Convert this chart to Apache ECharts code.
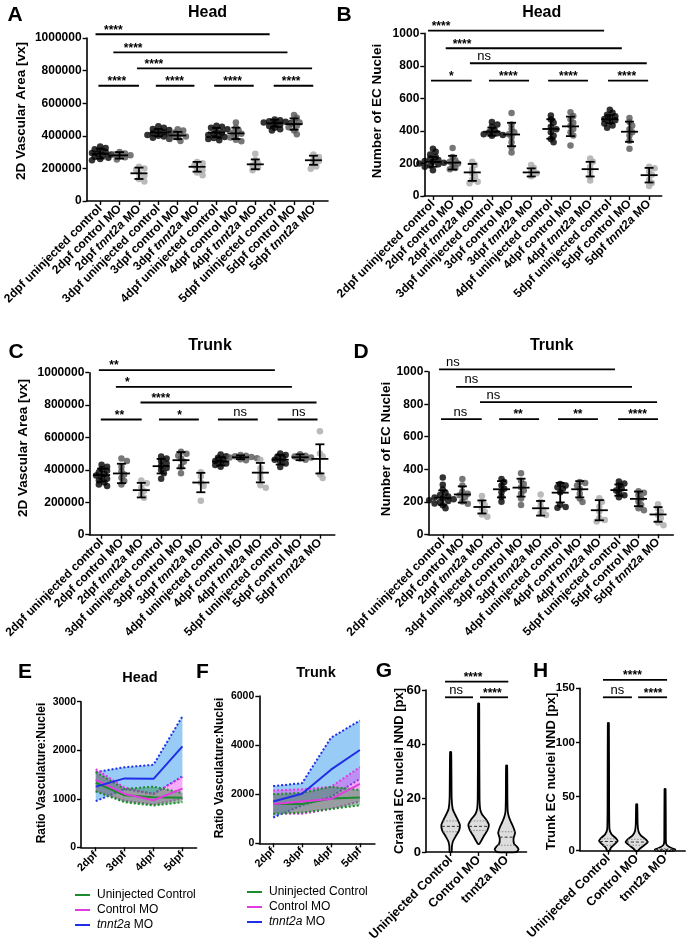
<!DOCTYPE html>
<html><head><meta charset="utf-8">
<script src="https://cdn.jsdelivr.net/npm/echarts@6/dist/echarts.min.js"></script>
<style>html,body{margin:0;padding:0;background:#fff}#c{width:690px;height:945px}</style>
</head><body><div id="c"></div>
<script>
const FONT = '"Liberation Sans", Arial, Helvetica, sans-serif';

// ---------- categories ----------
const catsAD = ['2dpf uninjected control','2dpf control MO','2dpf tnnt2a MO','3dpf uninjected control','3dpf control MO','3dpf tnnt2a MO','4dpf uninjected control','4dpf control MO','4dpf tnnt2a MO','5dpf uninjected control','5dpf control MO','5dpf tnnt2a MO'];
const daysEF = ['2dpf','3dpf','4dpf','5dpf'];
const catsGH = ['Uninjected Control','Control MO','tnnt2a MO'];
const groupNames = ['Uninjected Control','Control MO','tnnt2a MO'];

// ---------- A: Head 2D vascular area ----------
const aDots = [
 [335e3,325e3,318e3,310e3,300e3,295e3,290e3,285e3,280e3,272e3,265e3,258e3,250e3],
 [300e3,292e3,285e3,280e3,275e3,268e3,255e3],
 [210e3,200e3,190e3,172e3,155e3,135e3,120e3],
 [458e3,450e3,442e3,435e3,428e3,422e3,416e3,410e3,405e3,400e3,395e3,388e3,382e3],
 [440e3,432e3,420e3,410e3,402e3,396e3,390e3,380e3,368e3],
 [240e3,232e3,218e3,200e3,190e3,175e3,158e3],
 [462e3,455e3,450e3,440e3,430e3,420e3,412e3,405e3,398e3,392e3,386e3,380e3,372e3],
 [482e3,450e3,432e3,420e3,412e3,402e3,390e3,376e3,366e3],
 [290e3,252e3,232e3,220e3,205e3,188e3],
 [500e3,495e3,490e3,486e3,482e3,478e3,474e3,468e3,460e3,450e3,440e3,432e3],
 [528e3,510e3,492e3,482e3,472e3,462e3,452e3,432e3,410e3],
 [285e3,270e3,256e3,245e3,232e3,212e3,198e3]
];
const aMean = [290e3,280e3,170e3,420e3,402e3,210e3,420e3,415e3,225e3,477e3,472e3,250e3];
const aSD   = [30e3,20e3,35e3,22e3,22e3,30e3,28e3,35e3,30e3,22e3,35e3,28e3];
const aSigFrom = [-0.24,0.68,1.9,-0.09,2.87,5.88,8.95];
const aSigTo   = [8.74,9.66,10.93,2.0,4.86,7.92,10.99];
const aSigY    = [1023e3,912e3,814e3,707e3,707e3,707e3,707e3];
const aSigAt   = [0.68,1.7,2.77,0.86,3.84,6.83,9.85];
const aSigText = ['****','****','****','****','****','****','****'];

// ---------- B: Head EC nuclei ----------
const bDots = [
 [290,272,255,240,230,222,215,210,205,200,195,188,180,158],
 [295,240,220,210,200,190,172,165],
 [210,190,165,140,120,100,88,78],
 [455,440,425,405,392,386,380,375,370],
 [510,440,412,392,380,362,330,300,268],
 [190,172,152,140,122],
 [495,470,450,425,410,392,370,350,330],
 [515,492,470,450,432,412,392,372,310],
 [230,210,180,150,120,95],
 [530,512,500,490,482,474,466,456,446,434,420],
 [480,455,432,410,392,372,340,290],
 [180,170,150,130,100,80,62]
];
const bMean = [210,205,145,395,378,145,412,428,165,472,395,128];
const bSD   = [30,42,52,25,72,25,60,60,45,25,62,45];
const bSigFrom = [-0.25,0.65,1.88,-0.1,2.85,5.86,8.91];
const bSigTo   = [8.71,9.61,10.88,1.97,4.89,7.89,10.95];
const bSigY    = [1016,908,816,709,709,709,709];
const bSigAt   = [0.41,1.48,2.6,0.93,3.83,6.89,9.86];
const bSigText = ['****','****','ns','*','****','****','****'];

// ---------- C: Trunk 2D vascular area ----------
const cDots = [
 [432e3,420e3,405e3,395e3,385e3,375e3,365e3,355e3,345e3,335e3,322e3,310e3,300e3],
 [470e3,455e3,420e3,392e3,372e3,352e3,332e3,310e3],
 [335e3,318e3,292e3,270e3,250e3,228e3],
 [482e3,470e3,455e3,440e3,425e3,412e3,400e3,380e3,345e3],
 [512e3,500e3,488e3,470e3,450e3,420e3,380e3],
 [385e3,360e3,322e3,300e3,210e3],
 [495e3,485e3,475e3,465e3,455e3,447e3,440e3,430e3,420e3],
 [492e3,488e3,484e3,480e3,476e3,472e3,466e3,460e3],
 [462e3,410e3,380e3,350e3,305e3,290e3],
 [502e3,492e3,482e3,472e3,462e3,452e3,440e3,418e3],
 [496e3,488e3,482e3,476e3,470e3,462e3],
 [638e3,502e3,482e3,372e3,350e3]
];
const cMean = [368e3,378e3,275e3,423e3,460e3,322e3,452e3,478e3,383e3,463e3,478e3,468e3];
const cSD   = [40e3,60e3,45e3,45e3,50e3,60e3,25e3,12e3,60e3,30e3,18e3,90e3];
const cSigFrom = [-0.14,0.72,1.96,-0.04,2.89,5.86,8.87];
const cSigTo   = [8.73,9.59,10.83,2.02,4.9,7.87,10.88];
const cSigY    = [1016e3,913e3,816e3,711e3,711e3,711e3,711e3];
const cSigAt   = [0.62,1.3,2.98,0.9,3.93,6.98,9.93];
const cSigText = ['**','*','****','**','*','ns','ns'];

// ---------- D: Trunk EC nuclei ----------
const dDots = [
 [350,305,275,255,242,232,226,220,215,210,205,198,190,178,160],
 [340,300,262,250,240,228,202,188],
 [235,200,180,160,140,122,108],
 [340,322,300,280,258,230,200],
 [375,330,310,290,270,250,220,180],
 [245,200,172,150,130,118],
 [310,300,290,280,258,182,168,164],
 [322,316,300,280,250,220,198],
 [222,200,170,140,100,88,78],
 [325,312,300,282,270,252,240,228],
 [265,255,240,220,200,180,160,148],
 [185,160,140,120,100,72,55]
];
const dMean = [225,245,168,277,287,160,256,277,148,272,218,122];
const dSD   = [45,50,40,50,55,45,60,50,62,35,45,45];
const dSigFrom = [-0.19,0.68,1.9,-0.09,2.88,5.89,8.96];
const dSigTo   = [8.8,9.67,10.95,1.99,4.92,7.93,11.0];
const dSigY    = [1014,907,813,708,708,708,708];
const dSigAt   = [0.51,1.46,2.59,0.9,3.85,6.9,9.95];
const dSigText = ['ns','ns','ns','ns','**','**','****'];

// ---------- E: Head ratio ----------
const eUninj = [1330,1070,1030,1020], eUninjLo = [1150,930,860,930], eUninjHi = [1550,1200,1250,1120];
const eCtrl  = [1390,1100,970,1210],  eCtrlLo  = [1160,960,880,1000], eCtrlHi  = [1610,1230,1100,1450];
const eTnnt  = [1250,1420,1410,2080], eTnntLo  = [950,1200,1100,1460], eTnntHi  = [1550,1650,1700,2700];

// ---------- F: Trunk ratio ----------
const fUninj = [1600,1600,1820,1870], fUninjLo = [1200,1250,1400,1550], fUninjHi = [2000,2050,2300,2170];
const fCtrl  = [1600,1700,1800,2420], fCtrlLo  = [1200,1200,1400,1700], fCtrlHi  = [2150,2200,2300,3100];
const fTnnt  = [1700,2020,3000,3800], fTnntLo  = [1050,1550,1900,2620], fTnntHi  = [2330,2450,4300,5000];

// ---------- G / H: violin densities [value, relative density] and quartiles ----------
const gDensity = [
 [[0,0.06],[2,0.08],[4,0.17],[6,0.42],[8,0.68],[10,0.75],[12,0.56],[14,0.33],[16,0.14],[20,0.06],[30,0.04],[37,0.02]],
 [[3,0.04],[4,0.17],[6,0.42],[8,0.7],[10,0.83],[12,0.6],[14,0.25],[16,0.1],[20,0.05],[40,0.03],[55,0.02]],
 [[0,0.8],[1,0.97],[2,0.83],[3,0.6],[5,0.55],[7,0.68],[9,0.55],[11,0.35],[13,0.17],[15,0.07],[20,0.04],[32,0.02]]
];
const gQuart = [[7.5,9.5,11.5],[8,9.5,11.5],[2.5,5.5,7.5]];
const hDensity = [
 [[0,0.08],[3,0.2],[6,0.5],[9,0.75],[12,0.55],[15,0.25],[20,0.07],[40,0.04],[118,0.02]],
 [[0,0.08],[2,0.25],[5,0.6],[8,0.9],[11,0.68],[14,0.33],[18,0.12],[25,0.05],[43,0.02]],
 [[0,0.75],[1,0.83],[2,0.6],[4,0.25],[6,0.08],[10,0.04],[57,0.02]]
];
const hQuart = [[5,8.5,11],[5,8,10.5],[0.5,1,2]];

const gSigFrom = [-0.2,-0.2,1.05], gSigTo = [2.06,0.8,2.05], gSigY = [63.1,57.3,57.3], gSigAt = [0.8,0.2,1.49], gSigText = ['****','ns','****'];
const hSigFrom = [-0.19,-0.19,1.05], hSigTo = [2.07,0.83,2.07], hSigY = [157.7,141.7,141.7], hSigAt = [0.85,0.32,1.58], hSigText = ['****','ns','****'];

// ---------- layout ----------
const P = {
  A:{left:84,top:38,width:244,height:163,xmin:-0.70,xmax:11.75,ymax:1e6,yint:2e5},
  B:{left:424.3,top:33.3,width:237.4,height:162.7,xmin:-0.44,xmax:11.64,ymax:1000,yint:200},
  C:{left:89.3,top:372.7,width:245.5,height:162,xmin:-0.62,xmax:11.75,ymax:1e6,yint:2e5},
  D:{left:428.3,top:371.7,width:245,height:162.6,xmin:-0.74,xmax:11.78,ymax:1000,yint:200},
  E:{left:81,top:701.7,width:115.6,height:145.6,xmin:-0.51,xmax:3.49,ymax:3000,yint:1000},
  F:{left:259.3,top:696,width:115.6,height:147.3,xmin:-0.48,xmax:3.52,ymax:6000,yint:2000},
  G:{left:426,top:690,width:100.5,height:162,xmin:-0.88,xmax:2.71,ymax:60,yint:20},
  H:{left:580,top:688.3,width:105.2,height:162.4,xmin:-1.0,xmax:2.71,ymax:150,yint:50}
};

const grids = [], xAxes = [], yAxes = [], series = [];
const axisLineStyle = {color:'#000', width:1.6};

function addPanel(p, cats, xFont, yFont, italic) {
  const gi = grids.length;
  grids.push({left:p.left, top:p.top, width:p.width, height:p.height});
  const ticks = cats.map((_, i) => i);
  xAxes.push({
    type:'value', gridIndex:gi, min:p.xmin, max:p.xmax, splitLine:{show:false},
    axisLine:{onZero:false, lineStyle:axisLineStyle},
    axisTick:{customValues:ticks, length:4, lineStyle:{color:'#000', width:1.4}},
    axisLabel:{customValues:ticks, rotate:45, margin:6, color:'#000', fontWeight:'bold', fontSize:xFont, fontFamily:FONT,
      formatter: v => { const n = cats[Math.round(v)] || ''; return italic ? n.replace('tnnt2a', '{i|tnnt2a}') : n; },
      rich:{i:{fontStyle:'italic', fontWeight:'bold', fontSize:xFont, fontFamily:FONT, color:'#000'}}}
  });
  yAxes.push({
    type:'value', gridIndex:gi, min:0, max:p.ymax, interval:p.yint, splitLine:{show:false},
    axisLine:{show:true, onZero:false, lineStyle:axisLineStyle},
    axisTick:{show:true, length:4, lineStyle:{color:'#000', width:1.4}},
    axisLabel:{color:'#000', fontWeight:'bold', fontSize:yFont, fontFamily:FONT, margin:5, formatter: v => String(v)}
  });
  return gi;
}

function swarm(values, ppu, d) {
  const order = values.map((v, k) => k).sort((a, b) => values[b] - values[a]);
  const placed = [], off = values.map(() => 0);
  for (const k of order) {
    const y = values[k] * ppu;
    for (let s = 0; s < 30; s++) {
      const cand = s === 0 ? 0 : (s % 2 ? 1 : -1) * Math.ceil(s / 2) * d * 0.42;
      if (placed.every(pp => Math.hypot(pp.x - cand, pp.y - y) >= d * 0.6)) { off[k] = cand; placed.push({x:cand, y}); break; }
    }
  }
  return off;
}

const dotColors = ['#000000', '#555555', '#a9a9a9'];
function dotSeries(gi, p, groups) {
  const ppu = p.height / p.ymax, data = [];
  groups.forEach((vals, i) => {
    const off = swarm(vals, ppu, 6.5);
    vals.forEach((v, k) => data.push({value:[i, v], symbolOffset:[off[k], 0], itemStyle:{color:dotColors[i % 3]}}));
  });
  return {type:'scatter', xAxisIndex:gi, yAxisIndex:gi, symbolSize:6.5, silent:true, z:3, data};
}

function errSeries(gi, means, sds) {
  return {type:'custom', xAxisIndex:gi, yAxisIndex:gi, silent:true, z:4, clip:false,
    data: means.map((m, i) => [i, m, sds[i]]), encode:{x:0, y:1},
    renderItem:(params, api) => {
      const i = api.value(0), m = api.value(1), s = api.value(2);
      const c = api.coord([i, m]), hi = api.coord([i, m + s]), lo = api.coord([i, m - s]);
      const st = {stroke:'#000', lineWidth:1.8};
      return {type:'group', children:[
        {type:'line', shape:{x1:c[0]-8.5, y1:c[1], x2:c[0]+8.5, y2:c[1]}, style:st},
        {type:'line', shape:{x1:c[0], y1:hi[1], x2:c[0], y2:lo[1]}, style:st},
        {type:'line', shape:{x1:c[0]-4.5, y1:hi[1], x2:c[0]+4.5, y2:hi[1]}, style:st},
        {type:'line', shape:{x1:c[0]-4.5, y1:lo[1], x2:c[0]+4.5, y2:lo[1]}, style:st}
      ]};
    }};
}

function sigSeries(gi, from, to, ys, at, texts) {
  return {type:'custom', xAxisIndex:gi, yAxisIndex:gi, silent:true, z:5, clip:false,
    data: from.map((f, k) => [f, to[k], ys[k], at[k]]), encode:{x:0, y:2},
    renderItem:(params, api) => {
      const y = api.value(2);
      const p1 = api.coord([api.value(0), y]), p2 = api.coord([api.value(1), y]), pl = api.coord([api.value(3), y]);
      const t = texts[params.dataIndex], stars = t.indexOf('*') >= 0;
      return {type:'group', children:[
        {type:'line', shape:{x1:p1[0], y1:p1[1], x2:p2[0], y2:p2[1]}, style:{stroke:'#000', lineWidth:1.8}},
        {type:'text', x:pl[0], y: stars ? p1[1] + 2 : p1[1] - 0.5,
          style:{text:t, fill:'#000', font: stars ? 'bold 12px ' + FONT : '13px ' + FONT, align:'center', verticalAlign:'bottom'}}
      ]};
    }};
}

function violinSeries(gi, dens, quarts) {
  const MAXW = 12;
  return {type:'custom', xAxisIndex:gi, yAxisIndex:gi, silent:true, z:3, clip:false,
    data: dens.map((_, i) => [i, 0]), encode:{x:0, y:1},
    renderItem:(params, api) => {
      const i = api.value(0), d = dens[params.dataIndex], q = quarts[params.dataIndex];
      const pt = (v, w, sgn) => { const c = api.coord([i, v]); return [c[0] + sgn * (w * MAXW + 0.3), c[1]]; };
      const pts = d.map(([v, w]) => pt(v, w, 1)).concat(d.slice().reverse().map(([v, w]) => pt(v, w, -1)));
      const widthAt = v => {
        for (let k = 0; k < d.length - 1; k++) {
          if (v >= d[k][0] && v <= d[k+1][0]) { const t = (v - d[k][0]) / (d[k+1][0] - d[k][0]); return d[k][1] + t * (d[k+1][1] - d[k][1]); }
        }
        return 0;
      };
      const qlines = q.map((v, k) => {
        const c = api.coord([i, v]), w = widthAt(v) * MAXW;
        return {type:'line', shape:{x1:c[0]-w, y1:c[1], x2:c[0]+w, y2:c[1]},
          style:{stroke: k === 1 ? '#333' : '#888', lineWidth:1, lineDash: k === 1 ? [3, 2] : [1.5, 1.5]}};
      });
      return {type:'group', children:[
        {type:'polygon', shape:{points:pts, smooth:0.15}, style:{fill:'#dedede', stroke:'#000', lineWidth:1.8}}
      ].concat(qlines)};
    }};
}

function bandSeries(gi, lower, upper, fill, stroke) {
  return {type:'custom', xAxisIndex:gi, yAxisIndex:gi, silent:true, z:2, clip:false,
    data: lower.map((l, i) => [i, l, upper[i]]), encode:{x:0, y:[1, 2]},
    renderItem:(params, api) => {
      if (params.dataIndex !== 0) return {type:'group', children:[]};
      const n = lower.length, lo = [], up = [];
      for (let j = 0; j < n; j++) {
        lo.push(api.coord([api.value(0, j), api.value(1, j)]));
        up.push(api.coord([api.value(0, j), api.value(2, j)]));
      }
      const ls = {stroke, lineWidth:2, lineDash:[2, 2], fill:null};
      return {type:'group', children:[
        {type:'polygon', shape:{points: up.concat(lo.slice().reverse())}, style:{fill}},
        {type:'polyline', shape:{points:up}, style:ls},
        {type:'polyline', shape:{points:lo}, style:ls}
      ]};
    }};
}

function lineSeries(gi, name, vals, color) {
  return {type:'line', name, xAxisIndex:gi, yAxisIndex:gi, data: vals.map((v, i) => [i, v]),
    symbol:'none', lineStyle:{color, width:2}, itemStyle:{color}, z:4, silent:true};
}

// ---------- build panels ----------
const gA = addPanel(P.A, catsAD, 12, 12, true);
series.push(dotSeries(gA, P.A, aDots), errSeries(gA, aMean, aSD), sigSeries(gA, aSigFrom, aSigTo, aSigY, aSigAt, aSigText));
const gB = addPanel(P.B, catsAD, 12, 12, true);
series.push(dotSeries(gB, P.B, bDots), errSeries(gB, bMean, bSD), sigSeries(gB, bSigFrom, bSigTo, bSigY, bSigAt, bSigText));
const gC = addPanel(P.C, catsAD, 12, 12, true);
series.push(dotSeries(gC, P.C, cDots), errSeries(gC, cMean, cSD), sigSeries(gC, cSigFrom, cSigTo, cSigY, cSigAt, cSigText));
const gD = addPanel(P.D, catsAD, 12, 12, true);
series.push(dotSeries(gD, P.D, dDots), errSeries(gD, dMean, dSD), sigSeries(gD, dSigFrom, dSigTo, dSigY, dSigAt, dSigText));

const GREEN = '#1c8c2c', MAGENTA = '#e03ce0', BLUE = '#1f2fe8';
const FILL_G = 'rgba(40,140,60,0.45)', FILL_M = 'rgba(235,70,235,0.45)', FILL_B = 'rgba(70,160,240,0.55)';
const gE = addPanel(P.E, daysEF, 11, 10.5, false);
series.push(
  bandSeries(gE, eTnntLo, eTnntHi, FILL_B, BLUE),
  bandSeries(gE, eCtrlLo, eCtrlHi, FILL_M, MAGENTA),
  bandSeries(gE, eUninjLo, eUninjHi, FILL_G, GREEN),
  lineSeries(gE, groupNames[0], eUninj, GREEN),
  lineSeries(gE, groupNames[1], eCtrl, MAGENTA),
  lineSeries(gE, groupNames[2], eTnnt, BLUE));
const gF = addPanel(P.F, daysEF, 11, 10.5, false);
series.push(
  bandSeries(gF, fTnntLo, fTnntHi, FILL_B, BLUE),
  bandSeries(gF, fCtrlLo, fCtrlHi, FILL_M, MAGENTA),
  bandSeries(gF, fUninjLo, fUninjHi, FILL_G, GREEN),
  lineSeries(gF, groupNames[0], fUninj, GREEN),
  lineSeries(gF, groupNames[1], fCtrl, MAGENTA),
  lineSeries(gF, groupNames[2], fTnnt, BLUE));
const gG = addPanel(P.G, catsGH, 12.5, 13, false);
series.push(violinSeries(gG, gDensity, gQuart), sigSeries(gG, gSigFrom, gSigTo, gSigY, gSigAt, gSigText));
const gH = addPanel(P.H, catsGH, 12.5, 11.5, false);
series.push(violinSeries(gH, hDensity, hQuart), sigSeries(gH, hSigFrom, hSigTo, hSigY, hSigAt, hSigText));

// ---------- texts ----------
function txt(text, x, y, font, rot) {
  return {type:'text', x, y, rotation: rot ? Math.PI / 2 : 0, silent:true,
    style:{text, font: font + ' ' + FONT, fill:'#000', align:'center', verticalAlign:'middle'}};
}
const texts = [
  txt('A', 15, 15, 'bold 21px'), txt('B', 344, 15, 'bold 21px'), txt('C', 16, 352.5, 'bold 21px'), txt('D', 361, 352.5, 'bold 21px'),
  txt('E', 25, 672, 'bold 21px'), txt('F', 202.5, 672, 'bold 21px'), txt('G', 384, 671.5, 'bold 21px'), txt('H', 540.5, 671.5, 'bold 21px'),
  txt('Head', 207.5, 12.5, 'bold 16px'), txt('Head', 541.7, 12.5, 'bold 16px'),
  txt('Trunk', 210, 346, 'bold 16px'), txt('Trunk', 551.7, 346, 'bold 16px'),
  txt('Head', 140, 678, 'bold 14.5px'), txt('Trunk', 316, 673, 'bold 14.5px'),
  txt('2D Vascular Area [vx]', 21.7, 111, 'bold 13.5px', true),
  txt('Number of EC Nuclei', 377.5, 111, 'bold 13.5px', true),
  txt('2D Vascular Area [vx]', 23, 448, 'bold 13.5px', true),
  txt('Number of EC Nuclei', 386, 449, 'bold 13.5px', true),
  txt('Ratio Vasculature:Nuclei', 41.7, 773, 'bold 12px', true),
  txt('Ratio Vasculature:Nuclei', 220, 768, 'bold 12px', true),
  txt('Cranial EC nuclei NND [px]', 399, 771, 'bold 13px', true),
  txt('Trunk EC nuclei NND [px]', 551, 771.5, 'bold 13px', true)
];

function legendAt(left, top) {
  return {left, top, orient:'vertical', icon:'rect', itemWidth:15, itemHeight:2, itemGap:3, selectedMode:false,
    data: groupNames,
    formatter: n => n === 'tnnt2a MO' ? '{i|tnnt2a} MO' : n,
    textStyle:{fontSize:12, fontFamily:FONT, color:'#000', padding:[0,0,0,2],
      rich:{i:{fontStyle:'italic', fontSize:12, fontFamily:FONT, color:'#000'}}}};
}

const chart = echarts.init(document.getElementById('c'), null, {renderer:'canvas'});
chart.setOption({
  animation:false,
  backgroundColor:'#fff',
  textStyle:{fontFamily:FONT},
  grid:grids, xAxis:xAxes, yAxis:yAxes, series,
  legend:[legendAt(70, 884), legendAt(242, 881)],
  graphic:{elements:texts}
});
</script></body></html>
